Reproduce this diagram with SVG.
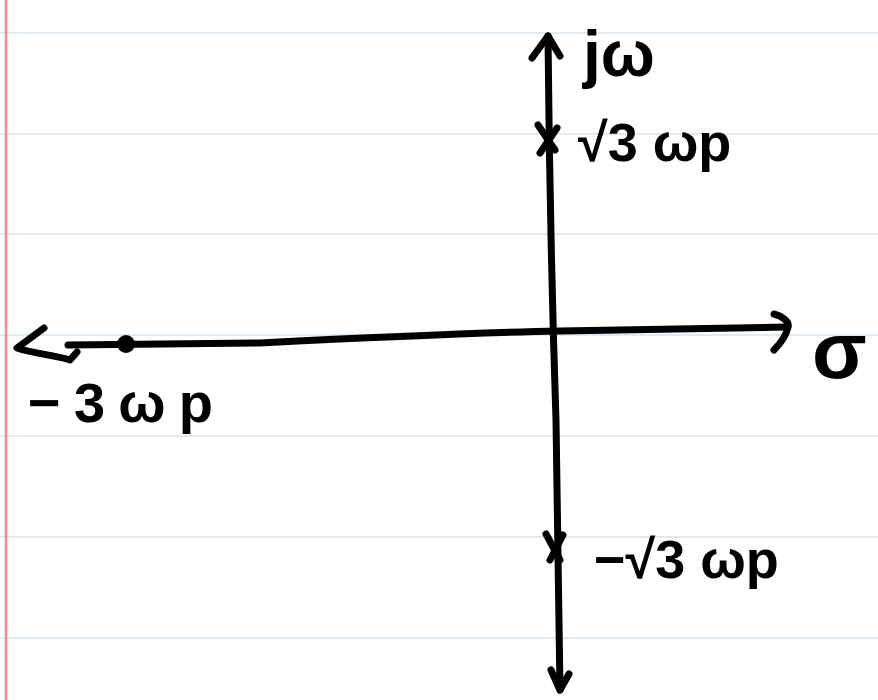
<svg xmlns="http://www.w3.org/2000/svg" width="878" height="700" viewBox="0 0 878 700">
<style>
.rule{stroke:#cfe6f7;stroke-width:1.5}
.ink{fill:none;stroke:#000;stroke-width:7;stroke-linecap:round;stroke-linejoin:round}
.lbl{font-family:"Liberation Sans",Arial,sans-serif;font-weight:bold;fill:#000}
</style>
<rect width="878" height="700" fill="#fff"/>
<g id="paper">
<line class="rule" x1="0" y1="33" x2="878" y2="33"/>
<line class="rule" x1="0" y1="134" x2="878" y2="134"/>
<line class="rule" x1="0" y1="234" x2="878" y2="234"/>
<line class="rule" x1="0" y1="335" x2="878" y2="335"/>
<line class="rule" x1="0" y1="436" x2="878" y2="436"/>
<line class="rule" x1="0" y1="537" x2="878" y2="537"/>
<line class="rule" x1="0" y1="638" x2="878" y2="638"/>
<line x1="6" y1="0" x2="6" y2="700" stroke="#f28a8a" stroke-width="2.5"/>
</g>
<g id="connectors">
<path id="imag-axis" class="ink" d="M548,36 C549,150 553,330 556,420 C558,520 559,620 560,690"/>
<path class="ink" d="M532,58 L548,36 L560,56"/>
<path class="ink" d="M551,670 L560,690 L569,674"/>
<path id="real-axis" class="ink" d="M68,345 L260,343 C360,338 460,333 560,331 L788,327"/>
<path class="ink" d="M774,314 C782,316 790,322 788,327 C786,336 780,344 774,350"/>
<path class="ink" d="M44,328 L17,348 C35,354 55,355 70,360 L77,352"/>
</g>
<g id="zero">
<circle cx="126" cy="344" r="9" fill="#000"/>
<text class="lbl" x="28" y="422" font-size="56" textLength="185" lengthAdjust="spacing">−3ωp</text>
</g>
<g id="pole-upper">
<path class="ink" d="M538,125 L555,150 M557,128 L540,153"/>
<text class="lbl" x="578" y="161" font-size="54">√3 ωp</text>
</g>
<g id="pole-lower">
<path class="ink" d="M546,534 L560,560 M563,535 L550,560"/>
<text class="lbl" x="594" y="578" font-size="54">−√3 ωp</text>
</g>
<g id="axis-labels">
<text class="lbl" x="583" y="76" font-size="64">jω</text>
<text class="lbl" x="812" y="378" font-size="80">σ</text>
</g>
</svg>
